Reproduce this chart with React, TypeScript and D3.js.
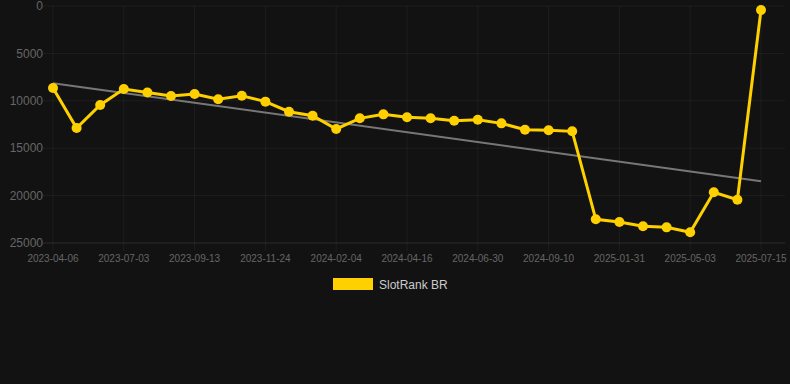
import React, { useEffect, useRef } from 'react';
import * as d3 from 'd3';

const dates = [
  '2023-04-06', '2023-05-05', '2023-06-04', '2023-07-03', '2023-07-27', '2023-08-20',
  '2023-09-13', '2023-10-07', '2023-10-31', '2023-11-24', '2023-12-18', '2024-01-11',
  '2024-02-04', '2024-02-28', '2024-03-23', '2024-04-16', '2024-05-11', '2024-06-05',
  '2024-06-30', '2024-07-24', '2024-08-17', '2024-09-10', '2024-10-27', '2024-12-14',
  '2025-01-31', '2025-03-03', '2025-04-02', '2025-05-03', '2025-05-27', '2025-06-20',
  '2025-07-15',
];
const ranks = [
  8650, 12870, 10440, 8760, 9120, 9490, 9280, 9840, 9460, 10090, 11150, 11570,
  12970, 11850, 11430, 11740, 11850, 12100, 11990, 12380, 13050, 13110, 13220,
  22500, 22780, 23240, 23350, 23870, 19650, 20430, 420,
];
const yTicks = [0, 5000, 10000, 15000, 20000, 25000];
const seriesName = 'SlotRank BR';

const W = 790, H = 384;
const left = 53, right = 761, top = 6, bottom = 243;

export default function App() {
  const ref = useRef<SVGSVGElement>(null);
  useEffect(() => {
    const svg = d3.select(ref.current);
    svg.selectAll('*').remove();
    const x = d3.scalePoint<string>().domain(dates).range([left, right]);
    const y = d3.scaleLinear().domain([0, 25000]).range([top, bottom]);

    // grid
    svg.append('g').selectAll('line').data(yTicks).join('line')
      .attr('x1', 43).attr('x2', 785)
      .attr('y1', d => y(d)).attr('y2', d => y(d))
      .attr('stroke', d => d === 25000 ? 'rgba(255,255,255,0.1)' : 'rgba(255,255,255,0.05)');
    const xTicks = dates.filter((_, i) => i % 3 === 0);
    svg.append('g').selectAll('line').data(xTicks).join('line')
      .attr('x1', d => x(d)!).attr('x2', d => x(d)!)
      .attr('y1', top).attr('y2', bottom + 8)
      .attr('stroke', 'rgba(255,255,255,0.05)');

    // y labels
    svg.append('g').selectAll('text').data(yTicks).join('text')
      .attr('x', 43).attr('y', d => y(d)).attr('dy', '0.35em')
      .attr('text-anchor', 'end')
      .attr('font-family', 'Arial, Liberation Sans, sans-serif')
      .attr('font-size', 12).attr('fill', '#666')
      .text(d => String(d));
    // x labels
    svg.append('g').selectAll('text').data(xTicks).join('text')
      .attr('x', d => x(d)!).attr('y', 262)
      .attr('text-anchor', 'middle')
      .attr('font-family', 'Arial, Liberation Sans, sans-serif')
      .attr('font-size', 10).attr('fill', '#666')
      .text(d => d);

    // trend line (least squares)
    const n = ranks.length;
    const mx = d3.mean(ranks.map((_, i) => i))!;
    const my = d3.mean(ranks)!;
    const slope = d3.sum(ranks, (v, i) => (i - mx) * (v - my)) / d3.sum(ranks, (_, i) => (i - mx) ** 2);
    const icpt = my - slope * mx;
    svg.append('line')
      .attr('x1', x(dates[0])!).attr('y1', y(icpt))
      .attr('x2', x(dates[n - 1])!).attr('y2', y(icpt + slope * (n - 1)))
      .attr('stroke', '#777').attr('stroke-width', 2);

    const line = d3.line<number>().x((_, i) => x(dates[i])!).y(d => y(d));
    svg.append('path').datum(ranks)
      .attr('d', line).attr('fill', 'none')
      .attr('stroke', '#FFD000').attr('stroke-width', 3);
    svg.append('g').selectAll('circle').data(ranks).join('circle')
      .attr('cx', (_, i) => x(dates[i])!).attr('cy', d => y(d))
      .attr('r', 5).attr('fill', '#FFD000');

    // legend
    svg.append('rect').attr('x', 333).attr('y', 278).attr('width', 40).attr('height', 12)
      .attr('fill', '#FFD000');
    svg.append('text').attr('x', 379).attr('y', 288.5)
      .attr('font-family', 'Arial, Liberation Sans, sans-serif')
      .attr('font-size', 12).attr('fill', '#ccc')
      .text(seriesName);
  }, []);
  return (
    <svg ref={ref} width={W} height={H}
      style={{ position: 'absolute', left: 0, top: 0, background: '#121212' }} />
  );
}
